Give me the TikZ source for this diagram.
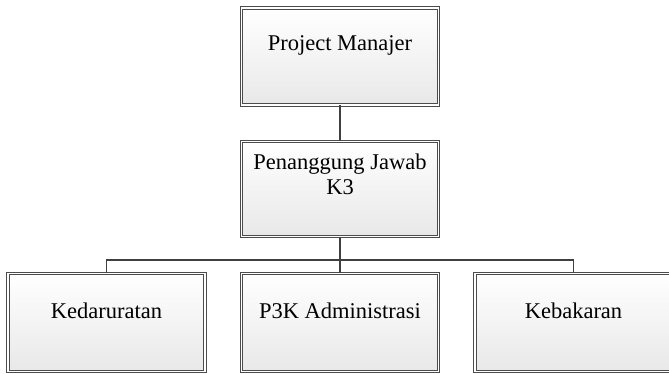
\documentclass[tikz,border=0pt]{standalone}
\usepackage{fontspec}
\setmainfont{Liberation Serif}
\usetikzlibrary{shadows}
\begin{document}
\begin{tikzpicture}[x=1pt,y=-1pt,
  orgbox/.style={draw=black!70, double=white, double distance=1.5pt, line width=1pt,
    top color=white, bottom color=black!9, minimum width=197pt, inner sep=0pt,
    drop shadow={shadow xshift=1.5pt, shadow yshift=-1.5pt, opacity=0.15, fill=black}},
  lbl/.style={font=\fontsize{22.5}{25}\selectfont, align=center, inner sep=0pt},
  conn/.style={draw=black!75, line width=1.2pt}]
\useasboundingbox (0,0) rectangle (669,374);
\node[orgbox, minimum height=97pt] (pm) at (340,56.5) {};
\node[orgbox, minimum height=95pt] (pj) at (340,189) {};
\node[orgbox, minimum height=98pt] (kd) at (106.5,322.5) {};
\node[orgbox, minimum height=98pt] (p3) at (340,322.5) {};
\node[orgbox, minimum height=98pt] (kb) at (573.5,322.5) {};
\node[lbl, anchor=base] (tpm) at (340,51) {Project Manajer};
\node[lbl, anchor=base] (tpj1) at (340,170) {Penanggung Jawab};
\node[lbl, anchor=base] (tpj2) at (340,195) {K3};
\node[lbl, anchor=base] (tkd) at (106.5,318) {Kedaruratan};
\node[lbl, anchor=base] (tp3) at (340,318) {P3K Administrasi};
\node[lbl, anchor=base] (tkb) at (573.5,318) {Kebakaran};
\coordinate (bus) at (340,260);
\draw[conn] (pm.south) -- (pj.north);
\draw[conn] (pj.south) -- (bus);
\draw[conn] (kd.north) |- (bus) -| (kb.north);
\draw[conn] (bus) -- (p3.north);
\end{tikzpicture}
\end{document}
